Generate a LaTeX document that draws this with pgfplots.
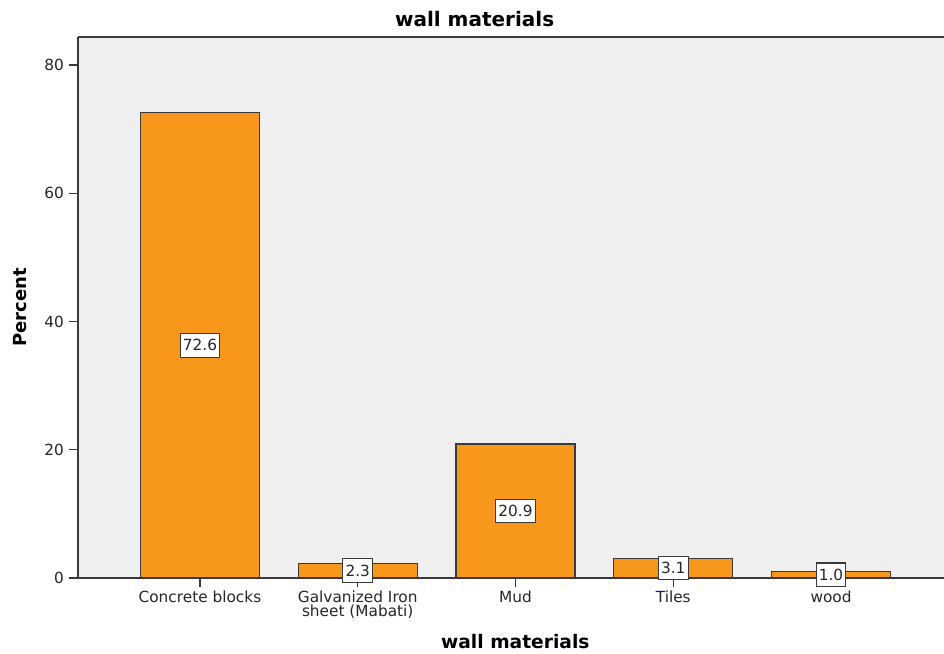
\documentclass[border=0pt]{standalone}
\usepackage{pgfplots}
\pgfplotsset{compat=1.18}
\usepackage{pgfplotstable}
\usepackage{fontspec}
\setmainfont{DejaVu Sans}
\definecolor{barfill}{HTML}{F7981D}
\definecolor{bgcol}{HTML}{EFEFEF}
\definecolor{edgecol}{HTML}{3A3A3A}
\pgfplotstableread{
x v
0 72.6
1 2.3
2 20.9
3 3.1
4 1.0
}\walldata
\begin{document}
\begin{tikzpicture}
\path[use as bounding box] (0,0) rectangle (708pt,489.75pt);
\begin{axis}[
  at={(58.5pt,56.25pt)}, anchor=south west,
  scale only axis, width=649.5pt, height=405.75pt,
  xmin=-0.773, xmax=4.716, ymin=0, ymax=84.37,
  enlargelimits=false,
  axis x line*=bottom, axis y line*=left,
  x axis line style={-, edgecol, line width=0.9pt},
  y axis line style={-, edgecol, line width=0.9pt},
  axis background/.style={fill=bgcol},
  xtick={0,1,2,3,4},
  xticklabels={Concrete blocks, {Galvanized Iron\\sheet (Mabati)}, Mud, Tiles, wood},
  ytick={0,20,40,60,80},
  tick align=outside, major tick length=7pt,
  tick style={edgecol, line width=0.9pt},
  /pgf/number format/assume math mode=true,
  tick label style={font=\fontsize{11.5}{10.5}\selectfont, text=black!85},
  x tick label style={align=center, yshift=1pt},
  title={wall materials},
  title style={at={(axis description cs:0.458,1.0185)}, anchor=center, yshift=0pt, font=\fontsize{15}{16}\selectfont\bfseries},
  xlabel={wall materials},
  xlabel style={at={(axis description cs:0.505,-0.1183)}, anchor=center, font=\fontsize{14}{15}\selectfont\bfseries},
  ylabel={Percent},
  ylabel style={at={(axis description cs:-0.067,0.5)}, anchor=center, font=\fontsize{13.5}{15}\selectfont\bfseries},
  clip=false,
]
\addplot[ybar, bar width=0.754, fill=barfill, draw=edgecol, line width=0.8pt] table[x=x, y=v] {\walldata};
\addplot[draw=none, mark=none,
  point meta=explicit,
  nodes near coords={\pgfmathprintnumber[fixed,fixed zerofill,precision=1]{\pgfplotspointmeta}},
  every node near coord/.style={anchor=center, fill=white, draw=edgecol, line width=0.8pt, inner xsep=2pt, inner ysep=4.5pt, font=\fontsize{11.5}{12}\selectfont, text=black!85}
] table[x=x, y expr=\thisrow{v}/2, meta=v] {\walldata};
\draw[edgecol, line width=0.9pt] (rel axis cs:0,1) -- (rel axis cs:1,1);
\end{axis}
\end{tikzpicture}
\end{document}
